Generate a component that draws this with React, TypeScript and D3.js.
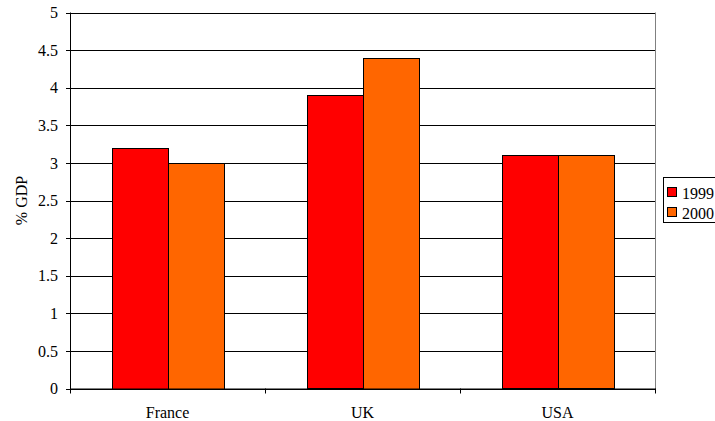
import React from "react";
import * as d3 from "d3";

const categories = ["France", "UK", "USA"];
const seriesNames = ["1999", "2000"];
const values1999 = [3.2, 3.9, 3.1];
const values2000 = [3.0, 4.4, 3.1];
const yTicks = [0, 0.5, 1, 1.5, 2, 2.5, 3, 3.5, 4, 4.5, 5];
const colors = ["#FF0000", "#FF6600"];

export default function App() {
  const W = 715, H = 421;
  const left = 70, right = 655, top = 12.5, bottom = 388.5;
  const x = d3.scaleBand<string>().domain(categories).range([left, right]).paddingInner(0).paddingOuter(0);
  const bw = x.bandwidth();
  const groupW = 111;
  const inner = d3.scaleBand<string>().domain(seriesNames).range([(bw - groupW) / 2, (bw + groupW) / 2]).padding(0);
  const y = d3.scaleLinear().domain([0, 5]).range([bottom, top]);
  const series = [values1999, values2000];
  const font = "Liberation Serif";
  const fs = 16;

  return (
    <svg width={W} height={H} style={{ position: "absolute", left: 0, top: 0 }} fontFamily={font}>
      <rect x={0} y={0} width={W} height={H} fill="#fff" />
      {yTicks.map((t) => (
        <line key={"g" + t} x1={left} x2={right} y1={Math.round(y(t)) + 0.5} y2={Math.round(y(t)) + 0.5} stroke="#000" strokeWidth={1} />
      ))}
      <line x1={right + 0.5} x2={right + 0.5} y1={top} y2={bottom} stroke="#808080" />
      {categories.map((c, i) =>
        series.map((vals, s) => {
          const bx = (x(c) as number) + (inner(seriesNames[s]) as number);
          return (
            <rect key={c + s} x={Math.round(bx) + 0.5} y={Math.round(y(vals[i])) + 0.5} width={Math.round(inner.bandwidth())} height={Math.round(bottom - y(vals[i]))} fill={colors[s]} stroke="#000" strokeWidth={1} />
          );
        })
      )}
      <line x1={left + 0.5} x2={left + 0.5} y1={top} y2={bottom + 4} stroke="#000" />
      <line x1={left} x2={right + 1} y1={bottom + 0.5} y2={bottom + 0.5} stroke="#000" />
      {yTicks.map((t) => (
        <g key={"t" + t}>
          <line x1={left - 4} x2={left} y1={Math.round(y(t)) + 0.5} y2={Math.round(y(t)) + 0.5} stroke="#000" />
          <text x={left - 12} y={y(t)} dy="0.35em" textAnchor="end" fontSize={fs}>{t}</text>
        </g>
      ))}
      {[...categories.map((c) => x(c) as number), right].map((v, i) => (
        <line key={"bt" + i} x1={Math.round(v) + 0.5} x2={Math.round(v) + 0.5} y1={bottom} y2={bottom + 5} stroke="#000" />
      ))}
      {categories.map((c) => (
        <text key={"c" + c} x={(x(c) as number) + bw / 2} y={418} textAnchor="middle" fontSize={fs}>{c}</text>
      ))}
      <text transform={`translate(27,${(top + bottom) / 2}) rotate(-90)`} textAnchor="middle" fontSize={fs}>% GDP</text>
      <rect x={663.5} y={177.5} width={60} height={45} fill="#fff" stroke="#000" />
      {seriesNames.map((s, i) => (
        <g key={"l" + s}>
          <rect x={667.5} y={187.5 + i * 20} width={9} height={9} fill={colors[i]} stroke="#000" />
          <text x={682} y={193 + i * 20} dy="0.35em" fontSize={fs}>{s}</text>
        </g>
      ))}
    </svg>
  );
}
